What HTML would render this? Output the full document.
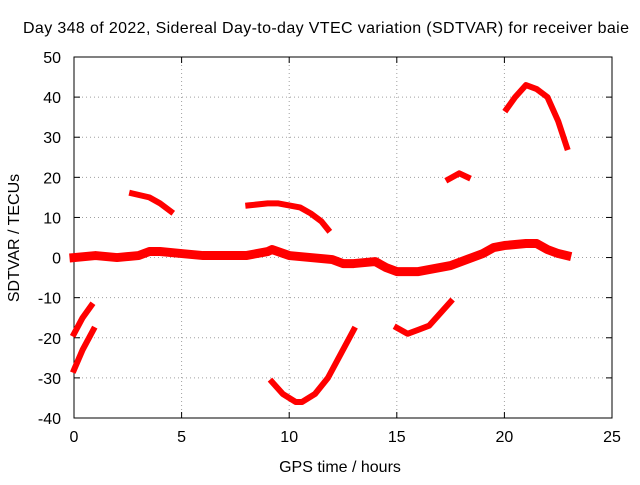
<!DOCTYPE html>
<html><head><meta charset="utf-8"><style>
body{margin:0;background:#fff;font-family:"Liberation Sans",sans-serif}
svg text{font-family:"Liberation Sans",sans-serif;font-size:16px;fill:#000}
</style></head><body>
<svg id="c" width="640" height="480" xmlns="http://www.w3.org/2000/svg"></svg>
<script>
const xTicks=[0,5,10,15,20,25];
const yTicks=[-40,-30,-20,-10,0,10,20,30,40,50];
const segX=[
[0,1,2,3,3.5,4,5,6,7,8,9,9.2,10,11,12,12.5,13,14,14.5,15,15.5,16,17,17.5,18,18.5,19,19.5,20,21,21.5,22,22.5,22.9],
[0,0.4,0.8],
[0,0.4,0.9],
[2.7,3.5,4,4.5],
[8.1,9,9.5,10.5,11,11.5,11.8],
[9.2,9.7,10.3,10.6,11.2,11.8,12.3,13],
[15,15.5,16,16.5,17,17.5],
[17.4,17.9,18.3],
[20.1,20.5,21,21.5,22,22.5,22.9]];
const segY=[
[0,0.5,0,0.5,1.5,1.5,1,0.5,0.5,0.5,1.5,2,0.5,0,-0.5,-1.5,-1.5,-1,-2.5,-3.5,-3.5,-3.5,-2.5,-2,-1,0,1,2.5,3,3.5,3.5,2,1,0.5],
[-19,-15,-12],
[-28,-23,-18],
[16,15,13.5,11.5],
[13,13.5,13.5,12.5,11,9,7],
[-31,-34,-36,-36,-34,-30,-25,-18],
[-17.5,-19,-18,-17,-14,-11],
[19.5,21,20],
[37,40,43,42,40,34,27.5]];
const L=74,R=612,T=57,B=418;
const sx=v=>L+(v-0)/25*(R-L);
const sy=v=>B-(v+40)/90*(B-T);
const svg=document.getElementById('c');
const NS='http://www.w3.org/2000/svg';
function mk(t,a){const e=document.createElementNS(NS,t);for(const k in a)e.setAttribute(k,a[k]);svg.appendChild(e);return e;}
xTicks.forEach(v=>{
 if(v>0&&v<25){const g=mk('line',{x1:sx(v),x2:sx(v),y1:T,y2:B,stroke:'#a0a0a0','stroke-dasharray':'1,3'});
 
 }
 mk('line',{x1:sx(v),x2:sx(v),y1:B,y2:B-6,stroke:'#000'});
 mk('line',{x1:sx(v),x2:sx(v),y1:T,y2:T+6,stroke:'#000'});
 const t=mk('text',{x:sx(v),y:B+24,'text-anchor':'middle'});t.textContent=v;
 
 
});
yTicks.forEach(v=>{
 if(v>-40&&v<50){const g=mk('line',{x1:L,x2:R,y1:sy(v),y2:sy(v),stroke:'#a0a0a0','stroke-dasharray':'1,3'});
 
 }
 mk('line',{x1:L,x2:L+6,y1:sy(v),y2:sy(v),stroke:'#000'});
 mk('line',{x1:R,x2:R-6,y1:sy(v),y2:sy(v),stroke:'#000'});
 const t=mk('text',{x:L-13,y:sy(v)+6,'text-anchor':'end'});t.textContent=v;
 
 
});
const fr=mk('rect',{x:L,y:T,width:R-L,height:B-T,fill:'none',stroke:'#000'});


segX.forEach((xs,i)=>{
 const pts=xs.map((x,j)=>sx(x)+','+sy(segY[i][j])).join(' ');
 const p=mk('polyline',{points:pts,fill:'none',stroke:'#ff0000','stroke-width':(i==0?9:6),'stroke-linejoin':'round','stroke-linecap':'square'});
 
 
});
const tt=mk('text',{x:326,y:33,'text-anchor':'middle','font-size':'16.5','textLength':'606'});tt.textContent='Day 348 of 2022, Sidereal Day-to-day VTEC variation (SDTVAR) for receiver baie';


const xl=mk('text',{x:340,y:472,'text-anchor':'middle'});xl.textContent='GPS time / hours';


const yl=mk('text',{x:0,y:0,'text-anchor':'middle',transform:'translate(19,238) rotate(-90)'});yl.textContent='SDTVAR / TECUs';


</script>
</body></html>
